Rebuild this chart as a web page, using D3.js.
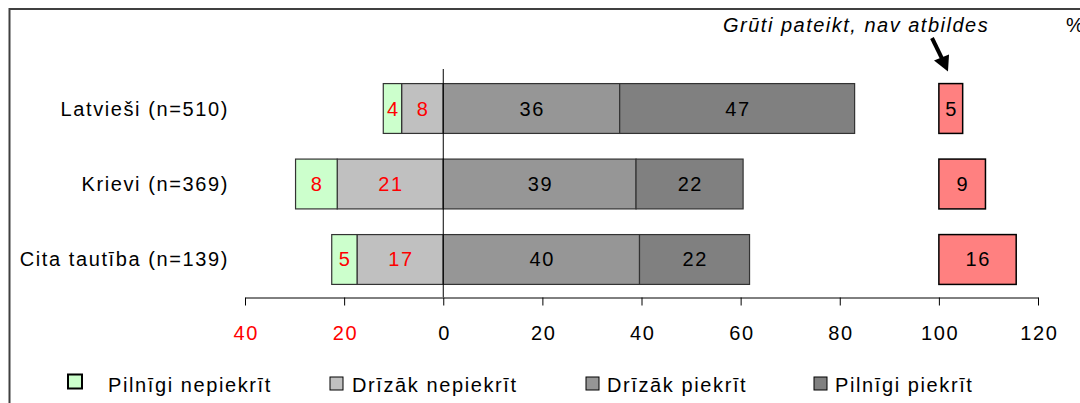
<!DOCTYPE html>
<html>
<head>
<meta charset="utf-8">
<script src="https://cdn.jsdelivr.net/npm/d3@7"></script>
<style>
  body { margin: 0; background: #fff; }
  svg { display: block; font-family: "Liberation Sans", Arial, sans-serif; }
  svg text { letter-spacing: 1.6px; }
</style>
</head>
<body>
<div id="content"></div>
<script>
// chart data
var categories = ["Latvieši (n=510)", "Krievi (n=369)", "Cita tautība (n=139)"];
var seriesNames = ["Pilnīgi nepiekrīt", "Drīzāk nepiekrīt", "Drīzāk piekrīt", "Pilnīgi piekrīt"];
var fullyDisagree = [3.7, 8.4, 5.1];
var ratherDisagree = [8.4, 21.4, 17.4];
var ratherAgree = [35.6, 38.9, 39.6];
var fullyAgree = [47.4, 21.6, 22.2];
var dontKnow = [4.8, 9.4, 15.6];
var tickValues = [-40, -20, 0, 20, 40, 60, 80, 100, 120];
var dkStart = 100;

var w = 1080,
    h = 403,
    fs = 20;

var colors = ["#CCFFCC", "#C0C0C0", "#969696", "#808080"];
var dkColor = "#FF8080";

var svg = d3.select("#content")
    .append("svg")
    .attr("width", w)
    .attr("height", h);

// outer frame
svg.append("rect")
    .attr("x", 9.5).attr("y", 9)
    .attr("width", w + 20).attr("height", h + 20)
    .attr("fill", "none")
    .attr("stroke", "#404040")
    .attr("stroke-width", 2);

var x = d3.scaleLinear().domain([-40, 120]).range([245, 1038]);
var y = d3.scaleBand().domain(categories).range([70, 298]).paddingInner(0.34).paddingOuter(0.18);

// build segments: negatives stacked left from zero, positives stacked right
var segs = [];
categories.forEach(function(c, i) {
    var g = ratherDisagree[i], f = fullyDisagree[i];
    var a = ratherAgree[i], b = fullyAgree[i];
    segs.push({cat: c, s: 1, x0: -g, x1: 0, v: g, red: true});
    segs.push({cat: c, s: 0, x0: -g - f, x1: -g, v: f, red: true});
    segs.push({cat: c, s: 2, x0: 0, x1: a, v: a, red: false});
    segs.push({cat: c, s: 3, x0: a, x1: a + b, v: b, red: false});
});

svg.selectAll("rect.seg")
    .data(segs)
    .enter()
    .append("rect")
    .attr("class", "seg")
    .attr("x", function(d) { return x(d.x0); })
    .attr("y", function(d) { return y(d.cat); })
    .attr("width", function(d) { return x(d.x1) - x(d.x0); })
    .attr("height", y.bandwidth())
    .attr("fill", function(d) { return colors[d.s]; })
    .attr("stroke", "#333")
    .attr("stroke-width", 1.2);

svg.selectAll("text.seg")
    .data(segs)
    .enter()
    .append("text")
    .attr("class", "seg")
    .attr("x", function(d) { return (x(d.x0) + x(d.x1)) / 2 + 0.8; })
    .attr("y", function(d) { return y(d.cat) + y.bandwidth() / 2 + 7; })
    .attr("text-anchor", "middle")
    .attr("font-size", fs)
    .attr("fill", function(d) { return d.red ? "#FF0000" : "#000"; })
    .text(function(d) { return Math.round(d.v); });

// don't know bars
svg.selectAll("rect.dk")
    .data(categories)
    .enter()
    .append("rect")
    .attr("class", "dk")
    .attr("x", x(dkStart))
    .attr("y", function(d) { return y(d); })
    .attr("width", function(d, i) { return x(dkStart + dontKnow[i]) - x(dkStart); })
    .attr("height", y.bandwidth())
    .attr("fill", dkColor)
    .attr("stroke", "#000")
    .attr("stroke-width", 1.5);

svg.selectAll("text.dk")
    .data(categories)
    .enter()
    .append("text")
    .attr("class", "dk")
    .attr("x", function(d, i) { return x(dkStart + dontKnow[i] / 2) + 0.8; })
    .attr("y", function(d) { return y(d) + y.bandwidth() / 2 + 7; })
    .attr("text-anchor", "middle")
    .attr("font-size", fs)
    .text(function(d, i) { return Math.round(dontKnow[i]); });

// zero line (category axis)
svg.append("line")
    .attr("x1", x(0)).attr("x2", x(0))
    .attr("y1", 69).attr("y2", 297)
    .attr("stroke", "#000");

// category labels
svg.selectAll("text.cat")
    .data(categories)
    .enter()
    .append("text")
    .attr("class", "cat")
    .attr("x", 229)
    .attr("y", function(d) { return y(d) + y.bandwidth() / 2 + 7; })
    .attr("text-anchor", "end")
    .attr("font-size", fs)
    .text(function(d) { return d; });

// value axis
var axis = d3.axisBottom(x)
    .tickValues(tickValues)
    .tickSize(8)
    .tickPadding(20)
    .tickSizeOuter(0)
    .tickFormat(function(d) { return Math.abs(d); });

var ag = svg.append("g")
    .attr("transform", "translate(0,297.5)")
    .call(axis);
ag.select(".domain").attr("stroke", "#000");
ag.selectAll(".tick line").attr("stroke", "#000");
ag.selectAll(".tick text")
    .attr("font-size", fs)
    .attr("font-family", "Liberation Sans, Arial, sans-serif")
    .attr("dx", 0.8)
    .attr("fill", function(d) { return d < 0 ? "#FF0000" : "#000"; });

// annotation
svg.append("text")
    .attr("x", 723).attr("y", 32)
    .attr("font-size", fs)
    .attr("font-style", "italic")
    .style("letter-spacing", "1.5px")
    .text("Grūti pateikt, nav atbildes");

svg.append("text")
    .attr("x", 1066).attr("y", 32)
    .attr("font-size", fs)
    .text("%");

// arrow to first dk bar
var tipX = 948,
    tipY = y(categories[0]) - 12;
svg.append("line")
    .attr("x1", 932).attr("y1", 38)
    .attr("x2", tipX - 5).attr("y2", tipY - 11)
    .attr("stroke", "#000")
    .attr("stroke-width", 4);
svg.append("path")
    .attr("d", "M" + tipX + "," + tipY + "L" + (tipX - 14) + "," + (tipY - 11) + "L" + (tipX + 1) + "," + (tipY - 17) + "Z")
    .attr("fill", "#000");

// legend
var legendX = [68, 330, 586, 814];
var legendTextX = [108, 352, 607, 835];
var lg = svg.selectAll("g.legend")
    .data(seriesNames)
    .enter()
    .append("g")
    .attr("class", "legend");

lg.append("rect")
    .attr("x", function(d, i) { return legendX[i]; })
    .attr("y", function(d, i) { return i === 0 ? 374.5 : 377; })
    .attr("width", function(d, i) { return i === 0 ? 14 : 13; })
    .attr("height", function(d, i) { return i === 0 ? 14 : 13; })
    .attr("fill", function(d, i) { return colors[i]; })
    .attr("stroke", "#000")
    .attr("stroke-width", function(d, i) { return i === 0 ? 2 : 1; });

lg.append("text")
    .attr("x", function(d, i) { return legendTextX[i]; })
    .attr("y", 392)
    .attr("font-size", fs)
    .text(function(d) { return d; });
</script>
</body>
</html>
